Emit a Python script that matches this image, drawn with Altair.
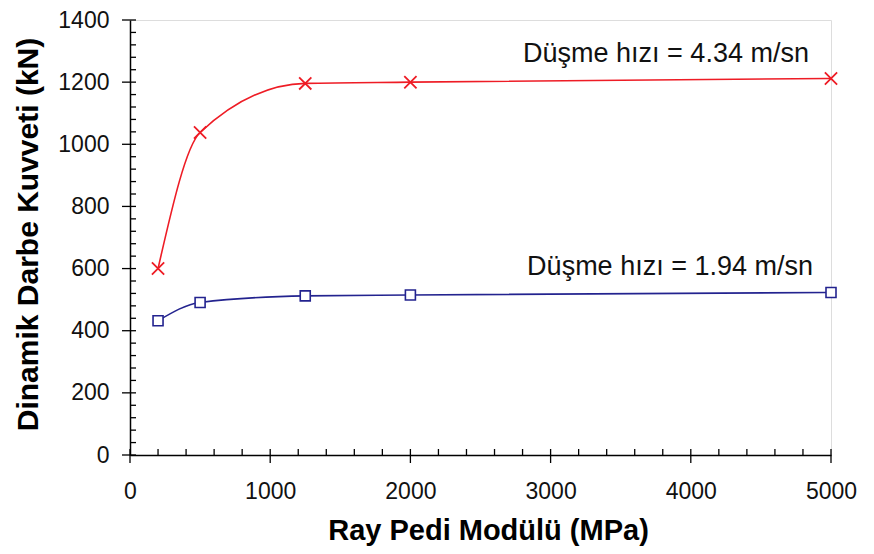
import altair as alt
import pandas as pd

# ---- data ----
modulus = [200, 500, 1250, 2000, 5000]          # Ray Pedi Modülü (MPa)
force_434 = [600, 1038, 1196, 1200, 1212]        # Düşme hızı = 4.34 m/sn
force_194 = [432, 491, 512, 515, 523]            # Düşme hızı = 1.94 m/sn

x_ticks = [0, 1000, 2000, 3000, 4000, 5000]
x_minor = [v for v in range(0, 5001, 200) if v % 1000 != 0]
y_ticks = [0, 200, 400, 600, 800, 1000, 1200, 1400]
y_minor = [v for v in range(0, 1401, 40) if v % 200 != 0]

labels = ["Düşme hızı = 4.34 m/sn", "Düşme hızı = 1.94 m/sn"]
label_x = [3823, 3852]
label_y = [1265, 579]

RED = "#ee1c25"
BLUE = "#23238f"
FONT = "Liberation Sans"

df_red = pd.DataFrame({"mod": modulus, "val": force_434})
df_blue = pd.DataFrame({"mod": modulus, "val": force_194})
df_lab = pd.DataFrame({"mod": label_x, "val": label_y, "txt": labels})
df_xmaj = pd.DataFrame({"mod": x_ticks})
df_xmin = pd.DataFrame({"mod": x_minor})
df_ymaj = pd.DataFrame({"val": y_ticks})
df_ymin = pd.DataFrame({"val": y_minor})

W, H = 701, 435

xs = alt.Scale(domain=[0, 5000], nice=False, zero=False)
ys = alt.Scale(domain=[0, 1400], nice=False)

xaxis = alt.Axis(
    values=x_ticks, ticks=False, grid=False, domainColor="black", domainWidth=1.5,
    labelFont=FONT, labelFontSize=23, labelColor="#111", labelPadding=25,
    labelFlush=False, labelOverlap=False, format="d",
    title="Ray Pedi Modülü (MPa)", titleFont=FONT, titleFontSize=29,
    titleFontWeight="bold", titleColor="#000", titleX=358, titleY=84,
    titleAlign="center", titleBaseline="alphabetic", titleAngle=0,
)
yaxis = alt.Axis(
    values=y_ticks, ticks=False, grid=False, domainColor="black", domainWidth=1.5,
    labelFont=FONT, labelFontSize=23, labelColor="#111", labelPadding=21,
    labelFlush=False, labelOverlap=False, format="d",
    title="Dinamik Darbe Kuvveti (kN)", titleFont=FONT, titleFontSize=30,
    titleFontWeight="bold", titleColor="#000", titleX=-93, titleY=214,
    titleAlign="center", titleBaseline="alphabetic", titleAngle=270,
)

X = alt.X("mod:Q", scale=xs, axis=xaxis)
Y = alt.Y("val:Q", scale=ys, axis=yaxis)

red_line = alt.Chart(df_red).mark_line(interpolate="monotone", color=RED, strokeWidth=1.6).encode(x=X, y=Y)
red_pts = alt.Chart(df_red).mark_point(
    shape="M-1,-1L1,1M-1,1L1,-1", filled=False, stroke=RED, strokeWidth=1.8,
    size=150, opacity=1,
).encode(x=X, y=Y)

blue_line = alt.Chart(df_blue).mark_line(interpolate="monotone", color=BLUE, strokeWidth=1.6).encode(x=X, y=Y)
blue_pts = alt.Chart(df_blue).mark_point(
    shape="square", filled=True, fill="white", stroke=BLUE, strokeWidth=1.6,
    size=100, opacity=1,
).encode(x=X, y=Y)

texts = alt.Chart(df_lab).mark_text(
    align="center", baseline="alphabetic", font=FONT, fontSize=27, color="#111"
).encode(x=X, y=Y, text="txt:N")

xmaj = alt.Chart(df_xmaj).mark_rule(color="black", strokeWidth=1.3).encode(
    x=X, y=alt.value(H + 8), y2=alt.value(H - 6))
xmin = alt.Chart(df_xmin).mark_rule(color="black", strokeWidth=1.3).encode(
    x=X, y=alt.value(H), y2=alt.value(H - 6))
ymaj = alt.Chart(df_ymaj).mark_rule(color="black", strokeWidth=1.3).encode(
    y=Y, x=alt.value(-8), x2=alt.value(6))
ymin = alt.Chart(df_ymin).mark_rule(color="black", strokeWidth=1.3).encode(
    y=Y, x=alt.value(0), x2=alt.value(6))

chart = alt.layer(
    xmin, xmaj, ymin, ymaj, red_line, blue_line, red_pts, blue_pts, texts
).properties(
    width=W, height=H,
    padding={"left": 122, "top": 12, "right": 35, "bottom": 91},
    autosize=alt.AutoSizeParams(type="none"),
).configure_view(
    stroke="#808080", strokeWidth=2
).configure(background="white")

chart.save("out.html", embed_options={"renderer": "svg", "actions": False})
